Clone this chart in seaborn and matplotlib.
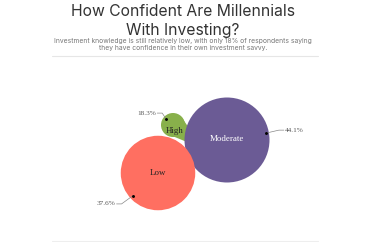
import numpy as np
import pandas as pd
import matplotlib
matplotlib.use("Agg")
import matplotlib.pyplot as plt
import seaborn as sns
from matplotlib.patches import Polygon

# ---- data ----
categories = ["Moderate", "Low", "High"]
values = [44.1, 37.6, 18.3]
pct_labels = ["44.1%", "37.6%", "18.3%"]
colors = ["#6b5b95", "#ff6f61", "#88b04b"]

# ---- layout (pixel coordinates of bubble centres) ----
pos_x = [227, 158, 173]
pos_y = [140, 173, 125]

sns.set_theme(style="white")
plt.rcParams["font.family"] = ["DejaVu Sans"]

W, H, DPI = 370, 242, 100
fig = plt.figure(figsize=(W / DPI, H / DPI), dpi=DPI)
ax = fig.add_axes([0, 0, 1, 1])
ax.set_xlim(0, W)
ax.set_ylim(H, 0)
ax.axis("off")

df = pd.DataFrame({"cat": categories, "val": values, "x": pos_x, "y": pos_y})

r_min, r_max = 12.0, 42.5  # pixels
pt = 72.0 / DPI
s_min, s_max = (2 * r_min * pt) ** 2, (2 * r_max * pt) ** 2

sns.scatterplot(data=df, x="x", y="y", hue="cat", palette=dict(zip(categories, colors)),
                size="val", sizes=(s_min, s_max), linewidth=0, legend=False, ax=ax, zorder=2)

# radius in px (same linear area mapping as seaborn)
vmin, vmax = min(values), max(values)
radii = [np.sqrt(s_min + (v - vmin) / (vmax - vmin) * (s_max - s_min)) / (2 * pt) for v in values]

# gooey connection of "High" bubble into the gap between Low and Moderate
cm, cl, ch = [np.array([pos_x[i], pos_y[i]], float) for i in range(3)]
u_lm = (cm - cl) / np.linalg.norm(cm - cl)
u_mh = (ch - cm) / np.linalg.norm(ch - cm)
tip = 0.5 * ((cl + u_lm * radii[1]) + (cm + u_mh * radii[0]))
v = tip - ch
n = np.array([-v[1], v[0]]) / np.linalg.norm(v)
inner = tip + (cm - tip) * 0.25
poly = Polygon([ch + n * radii[2] * 0.97, tip, inner, ch - n * radii[2] * 0.97], closed=True,
               facecolor=colors[2], edgecolor="none", zorder=1.5)
ax.add_patch(poly)

# labels inside bubbles
serif = ["Liberation Serif", "DejaVu Serif"]
txt_col = ["white", "#222222", "#222222"]
offs = [(0, -1), (0, 0), (2, 6)]
for i, c in enumerate(categories):
    ax.text(pos_x[i] + offs[i][0], pos_y[i] + offs[i][1], c, ha="center", va="center",
            fontsize=6.4, color=txt_col[i], family=serif, zorder=3)

# percentage labels with leader lines
lead = [  # (dot angle deg, text anchor offset, alignment)
    (10, (18, -3), "left"),
    (222, (-16, 8), "right"),
    (139, (-9, -6), "right"),
]
for i, (ang, off, ha) in enumerate(lead):
    a = np.deg2rad(ang)
    R = radii[i] - 3
    dot = np.array([pos_x[i] + np.cos(a) * R, pos_y[i] - np.sin(a) * R])
    end = dot + np.array(off)
    mid = end + np.array([5 if ha == "right" else -5, 0])
    ax.plot([dot[0], mid[0], end[0]], [dot[1], mid[1], end[1]], color="#888888", lw=0.5, zorder=3)
    ax.scatter([dot[0]], [dot[1]], s=1.2, color="black", zorder=4)
    ax.text(end[0] + (1 if ha == "left" else -1), end[1], pct_labels[i], ha=ha, va="center",
            fontsize=5.2, color="#555555", family=serif, zorder=3)

# title / subtitle
sans = ["Inter", "DejaVu Sans"]
fig.text(183 / W, 1 - 12 / H, "How Confident Are Millennials", ha="center", va="center",
         fontsize=11.3, color="#333333", family=sans)
fig.text(183 / W, 1 - 30 / H, "With Investing?", ha="center", va="center",
         fontsize=11.3, color="#333333", family=sans)
fig.text(183 / W, 1 - 40.5 / H, "Investment knowledge is still relatively low, with only 18% of respondents saying",
         ha="center", va="center", fontsize=4.85, color="#777777", family=sans)
fig.text(183 / W, 1 - 48 / H, "they have confidence in their own investment savvy.",
         ha="center", va="center", fontsize=4.85, color="#777777", family=sans)

ax.plot([52, 318], [55.5, 55.5], color="#e6e6e6", lw=0.8)
ax.plot([52, 318], [240.5, 240.5], color="#eeeeee", lw=0.8)

fig.savefig("out.png", dpi=DPI)
